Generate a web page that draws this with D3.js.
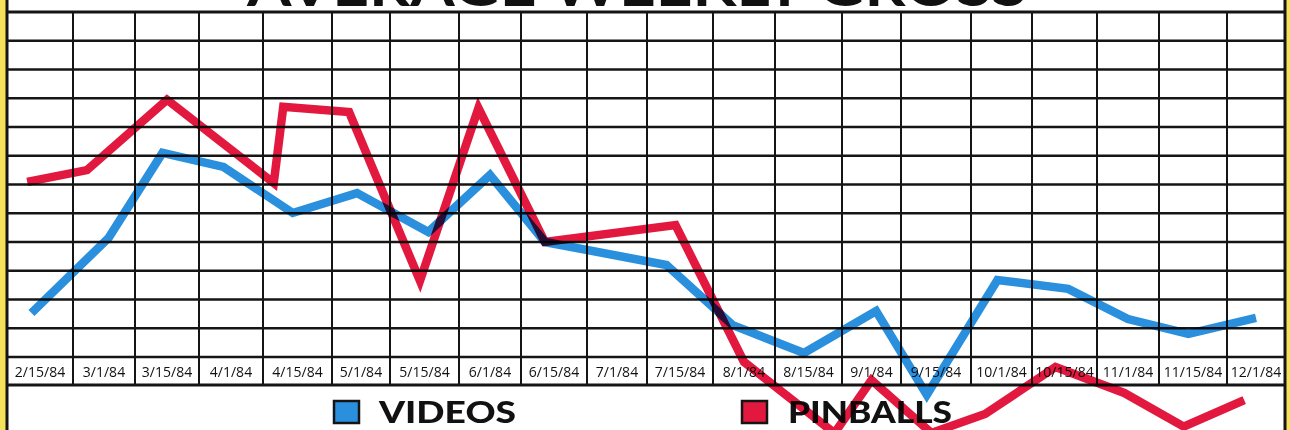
<!DOCTYPE html>
<html>
<head>
<meta charset="utf-8">
<script src="https://cdn.jsdelivr.net/npm/d3@7"></script>
<style>
  html, body { margin: 0; padding: 0; background: #f6e25a; }
  svg { display: block; }
</style>
</head>
<body>
<script>
// Average weekly gross: videos vs pinballs, 1984 (scanned chart, no y values printed)

const width = 1290;
const height = 430;

// column labels along the bottom of the grid
const dateLabels = ["2/15/84", "3/1/84", "3/15/84", "4/1/84", "4/15/84", "5/1/84", "5/15/84",
    "6/1/84", "6/15/84", "7/1/84", "7/15/84", "8/1/84", "8/15/84", "9/1/84", "9/15/84",
    "10/1/84", "10/15/84", "11/1/84", "11/15/84", "12/1/84"];

// values are in grid rows above the label row (the chart has no printed y scale)
const videoDates = ["2/13/84", "3/2/84", "3/14/84", "3/30/84", "4/14/84", "4/30/84", "5/16/84",
    "6/1/84", "6/13/84", "7/12/84", "7/29/84", "8/14/84", "9/2/84", "9/13/84", "9/30/84",
    "10/16/84", "11/1/84", "11/14/84", "12/1/84"];
const videoValues = [1.53, 4.14, 7.10, 6.61, 5.01, 5.70, 4.35, 6.33, 4.00, 3.20, 1.11, 0.14,
    1.60, -1.32, 2.68, 2.37, 1.32, 0.80, 1.36];

const pinballDates = ["2/12/84", "2/26/84", "3/15/84", "4/10/84", "4/12/84", "4/28/84", "5/14/84",
    "5/29/84", "6/13/84", "7/14/84", "8/1/84", "8/22/84", "9/1/84", "9/14/84", "9/27/84",
    "10/13/84", "10/31/84", "11/13/84", "11/28/84"];
const pinballValues = [6.09, 6.50, 8.95, 6.05, 8.70, 8.52, 2.65, 8.66, 4.00, 4.59, -0.17, -2.65,
    -0.80, -2.64, -1.98, -0.35, -1.25, -2.42, -1.50];

const seriesNames = ["VIDEOS", "PINBALLS"];
const seriesColors = ["#2a8fdc", "#e2183f"];

// hand-ruled column edges of the printed grid
const colEdges = [7, 73, 135, 199, 263, 332, 390, 459, 521, 587, 647, 713, 775, 842, 901, 971,
    1032, 1097, 1159, 1227, 1285];
const gridTop = 12;
const gridBottom = 357;
const labelBottom = 385;

const parse = d3.timeParse("%m/%d/%y");
const centers = d3.range(dateLabels.length).map(i => (colEdges[i] + colEdges[i + 1]) / 2);

const x = d3.scaleTime()
    .domain(dateLabels.map(parse))
    .range(centers);

const y = d3.scaleLinear()
    .domain([0, 12])
    .range([gridBottom, gridTop]);

const svg = d3.select("body")
    .append("svg")
    .attr("width", width)
    .attr("height", height);

// paper
svg.append("rect")
    .attr("x", colEdges[0]).attr("y", 0)
    .attr("width", colEdges[colEdges.length - 1] - colEdges[0])
    .attr("height", height)
    .attr("fill", "#ffffff");

// title, mostly cut off by the top of the crop (as in the scan)
svg.append("text")
    .attr("x", 637)
    .attr("y", 6)
    .attr("text-anchor", "middle")
    .attr("font-family", "Lato, 'Open Sans', sans-serif")
    .attr("font-weight", "bold")
    .attr("font-size", 56)
    .attr("textLength", 780)
    .attr("lengthAdjust", "spacingAndGlyphs")
    .attr("fill", "#111")
    .text("AVERAGE WEEKLY GROSS");

// date labels
svg.append("g")
    .selectAll("text")
    .data(dateLabels)
    .join("text")
    .attr("x", d => x(parse(d)))
    .attr("y", 377)
    .attr("text-anchor", "middle")
    .attr("font-family", "'Open Sans', sans-serif")
    .attr("font-size", 14)
    .attr("fill", "#111")
    .text(d => d);

// horizontal rules
svg.append("g")
    .selectAll("line")
    .data(y.ticks(12))
    .join("line")
    .attr("x1", colEdges[0])
    .attr("x2", colEdges[colEdges.length - 1])
    .attr("y1", d => y(d))
    .attr("y2", d => y(d))
    .attr("stroke", "#151515")
    .attr("stroke-width", d => d === 12 ? 3.2 : 2.6);

svg.append("line")
    .attr("x1", colEdges[0])
    .attr("x2", colEdges[colEdges.length - 1])
    .attr("y1", labelBottom)
    .attr("y2", labelBottom)
    .attr("stroke", "#151515")
    .attr("stroke-width", 3);

// vertical rules
svg.append("g")
    .selectAll("line")
    .data(colEdges.slice(1, -1))
    .join("line")
    .attr("x1", d => d)
    .attr("x2", d => d)
    .attr("y1", gridTop)
    .attr("y2", labelBottom)
    .attr("stroke", "#151515")
    .attr("stroke-width", 2);

// outer border sides
svg.append("g")
    .selectAll("line")
    .data([colEdges[0], colEdges[colEdges.length - 1]])
    .join("line")
    .attr("x1", d => d)
    .attr("x2", d => d)
    .attr("y1", 0)
    .attr("y2", height)
    .attr("stroke", "#151515")
    .attr("stroke-width", 3);

// legend
const legendPos = [{ box: 334, text: 379, len: 137 }, { box: 742, text: 788, len: 164 }];
const legend = svg.append("g")
    .selectAll("g")
    .data(seriesNames)
    .join("g");

legend.append("rect")
    .attr("x", (d, i) => legendPos[i].box)
    .attr("y", 401)
    .attr("width", 25)
    .attr("height", 22)
    .attr("fill", (d, i) => seriesColors[i])
    .attr("stroke", "#151515")
    .attr("stroke-width", 2.5);

legend.append("text")
    .attr("x", (d, i) => legendPos[i].text)
    .attr("y", 423)
    .attr("font-family", "Lato, 'Open Sans', sans-serif")
    .attr("font-weight", 900)
    .attr("font-size", 31)
    .attr("textLength", (d, i) => legendPos[i].len)
    .attr("lengthAdjust", "spacingAndGlyphs")
    .attr("fill", "#111")
    .text(d => d);

// the two series, overprinted like ink
const line = d3.line()
    .x(d => x(d.date))
    .y(d => y(d.value));

const series = [
    videoDates.map((d, i) => ({ date: parse(d), value: videoValues[i] })),
    pinballDates.map((d, i) => ({ date: parse(d), value: pinballValues[i] }))
];

svg.append("g")
    .selectAll("path")
    .data(series)
    .join("path")
    .attr("d", line)
    .attr("fill", "none")
    .attr("stroke", (d, i) => seriesColors[i])
    .attr("stroke-width", 8.5)
    .attr("stroke-linejoin", "miter")
    .attr("stroke-miterlimit", 4)
    .style("mix-blend-mode", "multiply");
</script>
</body>
</html>
